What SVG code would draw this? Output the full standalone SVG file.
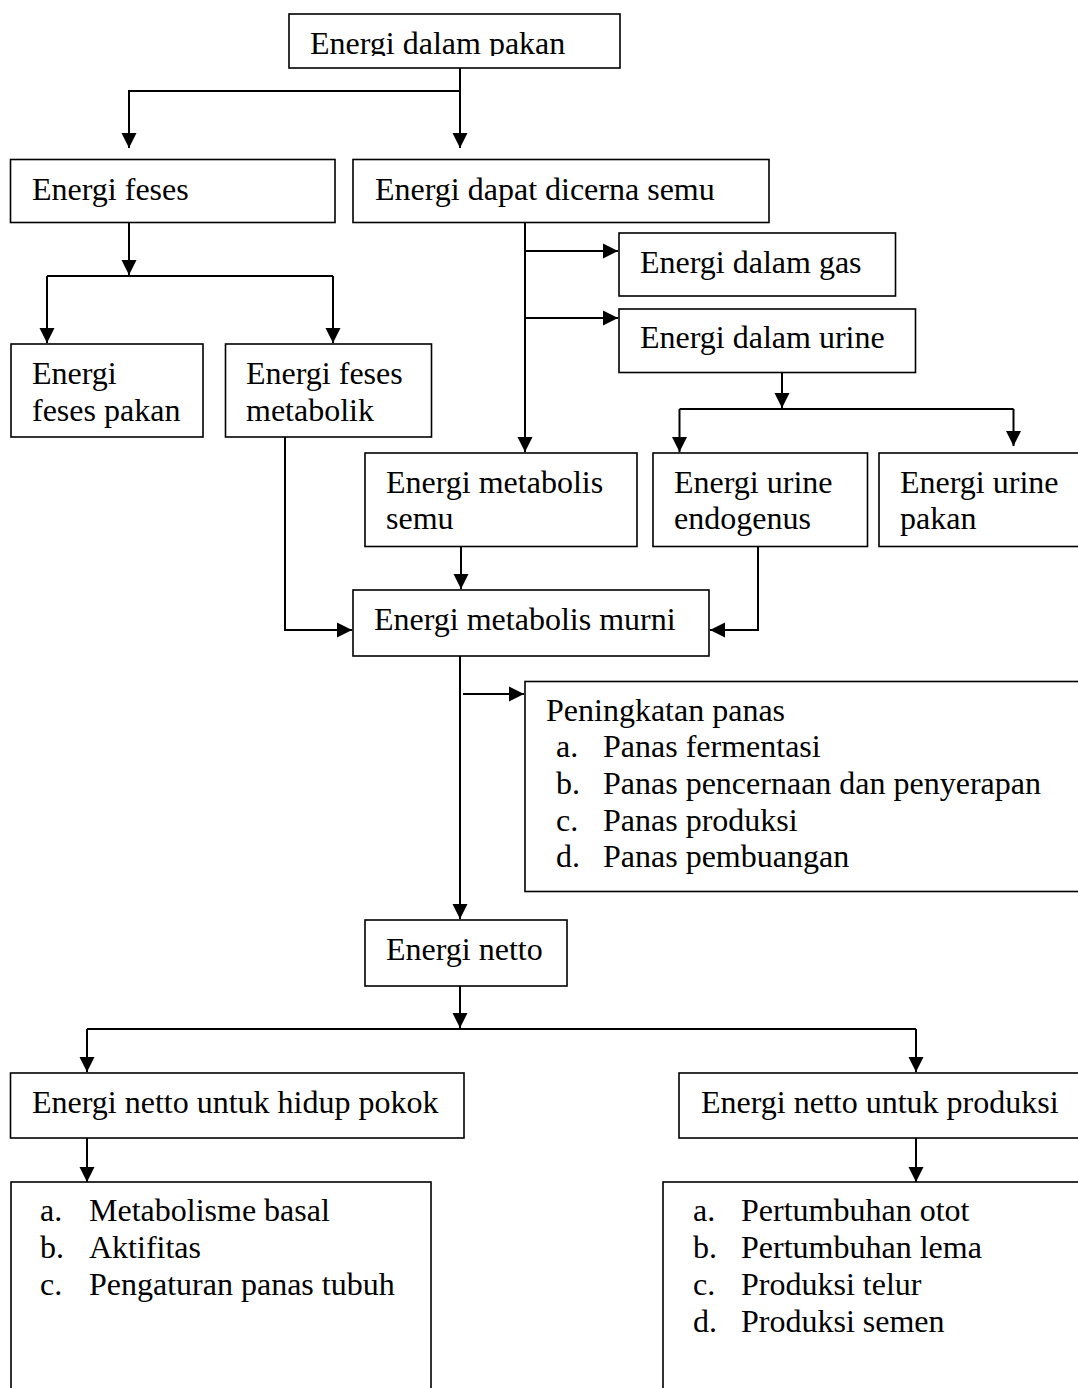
<svg xmlns="http://www.w3.org/2000/svg" width="1078" height="1388" viewBox="0 0 1078 1388">
<style>
.box{fill:#fff;stroke:#000;stroke-width:1.6}
.t{font-family:"Liberation Serif","Times New Roman",serif;font-size:32px;fill:#000}
.c{fill:none;stroke:#000;stroke-width:2}
.a{marker-end:url(#arr)}
</style>
<defs>
<marker id="arr" markerUnits="userSpaceOnUse" markerWidth="16" markerHeight="16" viewBox="0 0 16 16" refX="15" refY="8" orient="auto">
<path d="M0,0.5 L15,8 L0,15.5 Z" fill="#000"/>
</marker>
<clipPath id="clipTop"><rect x="289" y="14" width="331" height="42"/></clipPath>
</defs>
<rect width="1078" height="1388" fill="#fff"/>
<g id="connectors">
<path class="c a" d="M460,68 V148"/>
<path class="c a" d="M460,91 H129 V148"/>
<path class="c a" d="M129,222 V275"/>
<path class="c" d="M47,276 H333"/>
<path class="c a" d="M47,276 V343"/>
<path class="c a" d="M333,276 V343"/>
<path class="c a" d="M525,222 V452"/>
<path class="c a" d="M525,251 H618"/>
<path class="c a" d="M525,318 H618"/>
<path class="c a" d="M782,372 V408"/>
<path class="c" d="M679.5,409 H1013.5"/>
<path class="c a" d="M679.5,409 V452"/>
<path class="c a" d="M1013.5,409 V446"/>
<path class="c a" d="M461,547 V589"/>
<path class="c a" d="M285,437 V630 H352"/>
<path class="c a" d="M758,547 V630 H710"/>
<path class="c a" d="M460,656 V919"/>
<path class="c a" d="M463,694 H524"/>
<path class="c a" d="M460,986 V1028"/>
<path class="c" d="M87,1029 H916"/>
<path class="c a" d="M87,1029 V1072"/>
<path class="c a" d="M916,1029 V1072"/>
<path class="c a" d="M87,1138 V1182"/>
<path class="c a" d="M916,1138 V1182"/>
</g>
<g id="n-pakan">
<rect class="box" x="289" y="14" width="331" height="54"/>
<text class="t" x="310" y="54" clip-path="url(#clipTop)">Energi dalam pakan</text>
</g>
<g id="n-feses">
<rect class="box" x="10.5" y="159.5" width="324.5" height="63"/>
<text class="t" x="32" y="200">Energi feses</text>
</g>
<g id="n-dapat">
<rect class="box" x="353" y="159.5" width="416" height="63"/>
<text class="t" x="375" y="200">Energi dapat dicerna semu</text>
</g>
<g id="n-gas">
<rect class="box" x="619" y="233" width="276.5" height="63"/>
<text class="t" x="640" y="273">Energi dalam gas</text>
</g>
<g id="n-urine">
<rect class="box" x="619" y="309" width="296.5" height="63.5"/>
<text class="t" x="640" y="348">Energi dalam urine</text>
</g>
<g id="n-feses-pakan">
<rect class="box" x="11" y="344" width="192" height="93"/>
<text class="t" x="32" y="384">Energi</text>
<text class="t" x="32" y="421">feses pakan</text>
</g>
<g id="n-feses-metabolik">
<rect class="box" x="225.5" y="344" width="206" height="93"/>
<text class="t" x="246" y="384">Energi feses</text>
<text class="t" x="246" y="421">metabolik</text>
</g>
<g id="n-ems">
<rect class="box" x="365" y="453" width="272" height="93.5"/>
<text class="t" x="386" y="493">Energi metabolis</text>
<text class="t" x="386" y="529">semu</text>
</g>
<g id="n-endogenus">
<rect class="box" x="653" y="453" width="214.5" height="93.5"/>
<text class="t" x="674" y="493">Energi urine</text>
<text class="t" x="674" y="529">endogenus</text>
</g>
<g id="n-urine-pakan">
<rect class="box" x="879" y="453" width="220" height="93.5"/>
<text class="t" x="900" y="493">Energi urine</text>
<text class="t" x="900" y="529">pakan</text>
</g>
<g id="n-emm">
<rect class="box" x="353" y="590" width="356" height="66"/>
<text class="t" x="374" y="630">Energi metabolis murni</text>
</g>
<g id="n-panas">
<rect class="box" x="525" y="681.5" width="575" height="210"/>
<text class="t" x="546" y="721">Peningkatan panas</text>
<text class="t" x="556" y="757">a.</text><text class="t" x="603" y="757">Panas fermentasi</text>
<text class="t" x="556" y="794">b.</text><text class="t" x="603" y="794">Panas pencernaan dan penyerapan</text>
<text class="t" x="556" y="831">c.</text><text class="t" x="603" y="831">Panas produksi</text>
<text class="t" x="556" y="867">d.</text><text class="t" x="603" y="867">Panas pembuangan</text>
</g>
<g id="n-netto">
<rect class="box" x="365" y="920" width="202" height="66"/>
<text class="t" x="386" y="960">Energi netto</text>
</g>
<g id="n-hidup">
<rect class="box" x="10.5" y="1073" width="453.5" height="65"/>
<text class="t" x="32" y="1113">Energi netto untuk hidup pokok</text>
</g>
<g id="n-produksi">
<rect class="box" x="679" y="1073" width="420" height="65"/>
<text class="t" x="701" y="1113">Energi netto untuk produksi</text>
</g>
<g id="n-hidup-list">
<rect class="box" x="11" y="1182" width="420" height="230"/>
<text class="t" x="40" y="1221">a.</text><text class="t" x="89" y="1221">Metabolisme basal</text>
<text class="t" x="40" y="1258">b.</text><text class="t" x="89" y="1258">Aktifitas</text>
<text class="t" x="40" y="1295">c.</text><text class="t" x="89" y="1295">Pengaturan panas tubuh</text>
</g>
<g id="n-produksi-list">
<rect class="box" x="663" y="1182" width="440" height="230"/>
<text class="t" x="693" y="1221">a.</text><text class="t" x="741" y="1221">Pertumbuhan otot</text>
<text class="t" x="693" y="1258">b.</text><text class="t" x="741" y="1258">Pertumbuhan lema</text>
<text class="t" x="693" y="1295">c.</text><text class="t" x="741" y="1295">Produksi telur</text>
<text class="t" x="693" y="1332">d.</text><text class="t" x="741" y="1332">Produksi semen</text>
</g>
</svg>
